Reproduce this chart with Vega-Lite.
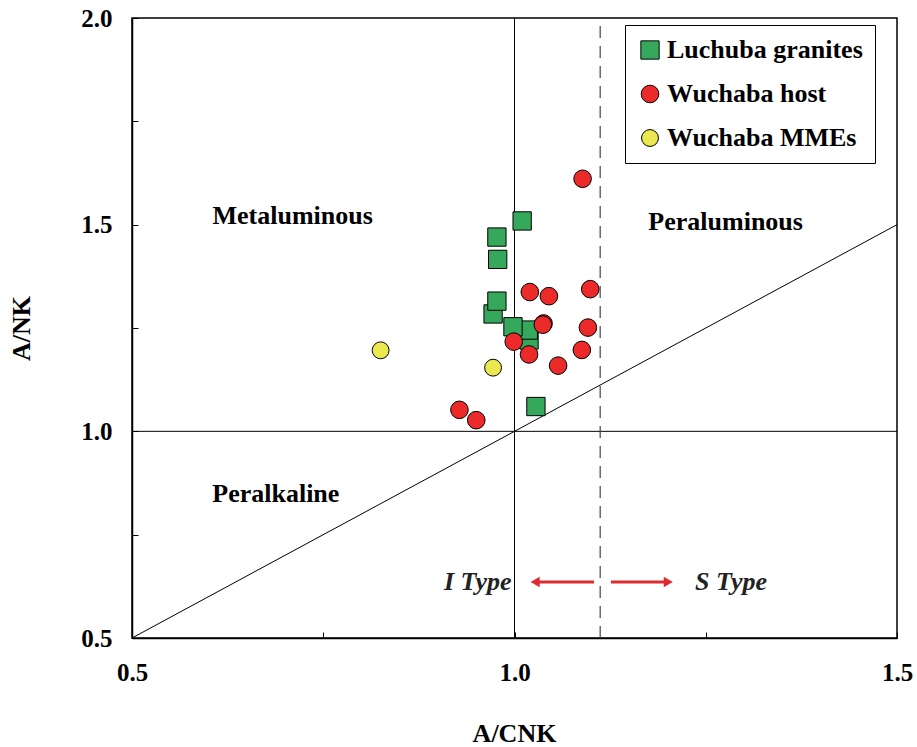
{
  "$schema": "https://vega.github.io/schema/vega-lite/v6.json",
  "width": 765,
  "height": 620,
  "autosize": {"type": "none"},
  "padding": {"left": 132, "top": 18, "right": 20, "bottom": 109},
  "background": "white",
  "config": {
    "view": {"stroke": "black", "strokeWidth": 1.5},
    "font": "Liberation Serif",
    "axis": {
      "grid": false,
      "domainColor": "black",
      "domainWidth": 1.5,
      "tickColor": "black",
      "tickSize": -6,
      "labelFont": "Liberation Serif",
      "labelFontWeight": "bold",
      "labelFontSize": 25,
      "labelColor": "black",
      "titleFont": "Liberation Serif",
      "titleFontWeight": "bold",
      "titleFontSize": 26,
      "titleColor": "black"
    }
  },
  "datasets": {
    "pts": [
      {"group": "Luchuba granites", "acnk": 1.010, "ank": 1.509},
      {"group": "Luchuba granites", "acnk": 0.977, "ank": 1.470},
      {"group": "Luchuba granites", "acnk": 0.978, "ank": 1.416},
      {"group": "Luchuba granites", "acnk": 0.972, "ank": 1.284},
      {"group": "Luchuba granites", "acnk": 0.977, "ank": 1.315},
      {"group": "Luchuba granites", "acnk": 1.019, "ank": 1.221},
      {"group": "Luchuba granites", "acnk": 1.018, "ank": 1.245},
      {"group": "Luchuba granites", "acnk": 0.998, "ank": 1.253},
      {"group": "Luchuba granites", "acnk": 1.028, "ank": 1.060},
      {"group": "Wuchaba host", "acnk": 1.089, "ank": 1.611},
      {"group": "Wuchaba host", "acnk": 1.020, "ank": 1.337},
      {"group": "Wuchaba host", "acnk": 1.045, "ank": 1.327},
      {"group": "Wuchaba host", "acnk": 1.099, "ank": 1.344},
      {"group": "Wuchaba host", "acnk": 1.038, "ank": 1.261},
      {"group": "Wuchaba host", "acnk": 1.037, "ank": 1.258},
      {"group": "Wuchaba host", "acnk": 1.096, "ank": 1.251},
      {"group": "Wuchaba host", "acnk": 0.999, "ank": 1.217},
      {"group": "Wuchaba host", "acnk": 1.019, "ank": 1.186},
      {"group": "Wuchaba host", "acnk": 1.088, "ank": 1.197},
      {"group": "Wuchaba host", "acnk": 1.057, "ank": 1.159},
      {"group": "Wuchaba host", "acnk": 0.928, "ank": 1.052},
      {"group": "Wuchaba host", "acnk": 0.950, "ank": 1.027},
      {"group": "Wuchaba MMEs", "acnk": 0.825, "ank": 1.196},
      {"group": "Wuchaba MMEs", "acnk": 0.972, "ank": 1.154}
    ],
    "solidLines": [
      {"x1": 1.0, "y1": 0.5, "x2": 1.0, "y2": 2.0},
      {"x1": 0.5, "y1": 1.0, "x2": 1.5, "y2": 1.0},
      {"x1": 0.5, "y1": 0.5, "x2": 1.5, "y2": 1.5}
    ],
    "dashLines": [
      {"x1": 1.112, "y1": 0.5, "x2": 1.112, "y2": 2.0}
    ],
    "regionLabels": [
      {"x": 0.710, "y": 1.521, "label": "Metaluminous"},
      {"x": 1.276, "y": 1.507, "label": "Peraluminous"},
      {"x": 0.688, "y": 0.848, "label": "Peralkaline"}
    ],
    "typeLabels": [
      {"x": 0.952, "y": 0.636, "label": "I Type"},
      {"x": 1.283, "y": 0.636, "label": "S Type"}
    ],
    "arrows": [
      {"x1": 1.104, "x2": 1.030, "y": 0.6355},
      {"x1": 1.126, "x2": 1.198, "y": 0.6355}
    ],
    "leftHeads": [
      {"x": 1.027, "y": 0.6355}
    ],
    "rightHeads": [
      {"x": 1.201, "y": 0.6355}
    ]
  },
  "layer": [
    {
      "data": {"name": "solidLines"},
      "mark": {"type": "rule", "color": "black", "strokeWidth": 1},
      "encoding": {
        "x": {"field": "x1", "type": "quantitative", "scale": {"domain": [0.5, 1.5], "nice": false, "zero": false},
          "axis": {"values": [0.5, 0.75, 1.0, 1.25, 1.5], "labelExpr": "datum.value == 0.75 || datum.value == 1.25 ? '' : format(datum.value, '.1f')", "title": "A/CNK", "labelPadding": 28, "titleX": 382, "titleY": 82, "labelFlush": false}},
        "y": {"field": "y1", "type": "quantitative", "scale": {"domain": [0.5, 2.0], "nice": false, "zero": false},
          "axis": {"values": [0.5, 0.75, 1.0, 1.25, 1.5, 1.75, 2.0], "labelExpr": "datum.value == 0.75 || datum.value == 1.25 || datum.value == 1.75 ? '' : format(datum.value, '.1f')", "title": "A/NK", "labelPadding": 26, "titleX": -98, "titleY": 310, "labelFlush": false}},
        "x2": {"field": "x2"},
        "y2": {"field": "y2"}
      }
    },
    {
      "data": {"name": "dashLines"},
      "mark": {"type": "rule", "color": "#444444", "strokeWidth": 1.2, "strokeDash": [12, 8]},
      "encoding": {
        "x": {"field": "x1", "type": "quantitative"},
        "y": {"field": "y1", "type": "quantitative"},
        "x2": {"field": "x2"},
        "y2": {"field": "y2"}
      }
    },
    {
      "data": {"name": "arrows"},
      "mark": {"type": "rule", "color": "#dd2a2f", "strokeWidth": 3},
      "encoding": {
        "x": {"field": "x1", "type": "quantitative"},
        "x2": {"field": "x2"},
        "y": {"field": "y", "type": "quantitative"}
      }
    },
    {
      "data": {"name": "leftHeads"},
      "mark": {"type": "point", "filled": true, "color": "#dd2a2f", "size": 110, "opacity": 1, "shape": "triangle-left"},
      "encoding": {
        "x": {"field": "x", "type": "quantitative"},
        "y": {"field": "y", "type": "quantitative"}
      }
    },
    {
      "data": {"name": "rightHeads"},
      "mark": {"type": "point", "filled": true, "color": "#dd2a2f", "size": 110, "opacity": 1, "shape": "triangle-right"},
      "encoding": {
        "x": {"field": "x", "type": "quantitative"},
        "y": {"field": "y", "type": "quantitative"}
      }
    },
    {
      "data": {"name": "regionLabels"},
      "mark": {"type": "text", "font": "Liberation Serif", "fontWeight": "bold", "fontSize": 26, "color": "black", "align": "center", "baseline": "middle"},
      "encoding": {
        "x": {"field": "x", "type": "quantitative"},
        "y": {"field": "y", "type": "quantitative"},
        "text": {"field": "label"}
      }
    },
    {
      "data": {"name": "typeLabels"},
      "mark": {"type": "text", "font": "Liberation Serif", "fontWeight": "bold", "fontStyle": "italic", "fontSize": 26, "color": "#222222", "align": "center", "baseline": "middle"},
      "encoding": {
        "x": {"field": "x", "type": "quantitative"},
        "y": {"field": "y", "type": "quantitative"},
        "text": {"field": "label"}
      }
    },
    {
      "data": {"name": "pts"},
      "mark": {"type": "point", "filled": true, "stroke": "black", "strokeWidth": 1, "opacity": 1},
      "encoding": {
        "x": {"field": "acnk", "type": "quantitative"},
        "y": {"field": "ank", "type": "quantitative"},
        "color": {"field": "group", "type": "nominal",
          "scale": {"domain": ["Luchuba granites", "Wuchaba host", "Wuchaba MMEs"], "range": ["#36a85c", "#ec2a2a", "#ebe84f"]},
          "legend": {"title": null, "orient": "none", "legendX": 493, "legendY": 7, "strokeColor": "black", "padding": 12, "fillColor": "white",
            "labelFont": "Liberation Serif", "labelFontWeight": "bold", "labelFontSize": 26, "labelColor": "black", "labelLimit": 0,
            "symbolSize": 300, "symbolStrokeColor": "black", "symbolStrokeWidth": 1, "rowPadding": 18, "labelOffset": 4, "symbolOpacity": 1}},
        "shape": {"field": "group", "type": "nominal",
          "scale": {"domain": ["Luchuba granites", "Wuchaba host", "Wuchaba MMEs"], "range": ["square", "circle", "circle"]}},
        "size": {"field": "group", "type": "nominal", "scale": {"domain": ["Luchuba granites", "Wuchaba host", "Wuchaba MMEs"], "range": [335, 285, 285]}, "legend": null}
      }
    }
  ]
}
